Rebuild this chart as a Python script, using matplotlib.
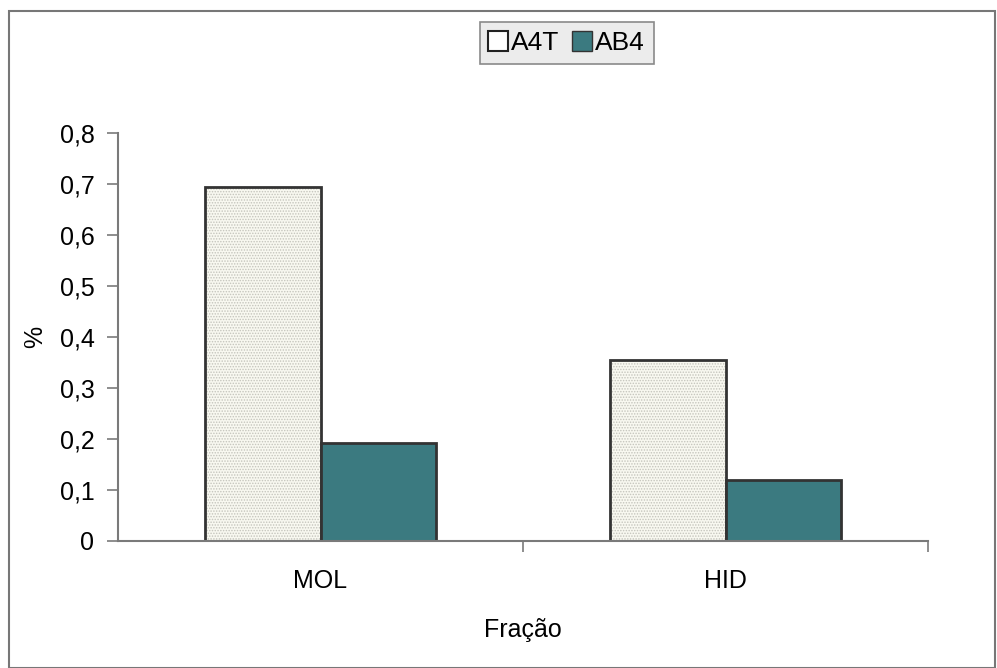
import matplotlib.pyplot as plt
from matplotlib.patches import Rectangle
from matplotlib.lines import Line2D
import numpy as np

categories = ["MOL", "HID"]
a4t = [0.695, 0.355]
ab4 = [0.192, 0.12]
yticks = [0, 0.1, 0.2, 0.3, 0.4, 0.5, 0.6, 0.7, 0.8]
ytick_labels = ["0", "0,1", "0,2", "0,3", "0,4", "0,5", "0,6", "0,7", "0,8"]

plt.rcParams["font.family"] = ["Liberation Sans", "DejaVu Sans"]
plt.rcParams["hatch.linewidth"] = 0.7

teal = "#3b7a80"
cream = "#f8f8f0"
axis_gray = "#7a7a7a"
fs = 18

fig = plt.figure(figsize=(9.97, 6.68), dpi=100)
ax = fig.add_axes([118 / 997, 1 - 541 / 668, 810 / 997, 408 / 668])

x = np.arange(len(categories))
w = 0.284

# stippled fill first, then the dark outline on top
ax.bar(x - w / 2, a4t, w, color=cream, edgecolor="#c4c4bc", hatch="......", linewidth=0)
ax.bar(x - w / 2, a4t, w, color="none", edgecolor="#333333", linewidth=2)
ax.bar(x + w / 2, ab4, w, color=teal, edgecolor="#333333", linewidth=2)

ax.set_xlim(-0.5, 1.5)
ax.set_ylim(0, 0.8)
ax.set_yticks(yticks)
ax.set_yticklabels(ytick_labels, fontsize=fs)
ax.set_xticks([0.5, 1.5], minor=False)
ax.set_xticklabels([])
ax.set_xticks(x, minor=True)
ax.set_xticklabels(categories, minor=True, fontsize=fs)
ax.tick_params(axis="x", which="minor", length=0, pad=20)
ax.tick_params(axis="x", which="major", length=8, width=1.2, color=axis_gray, direction="out")
ax.tick_params(axis="y", length=8, width=1.2, color=axis_gray, direction="out", pad=9)

for side in ["top", "right"]:
    ax.spines[side].set_visible(False)
for side in ["left", "bottom"]:
    ax.spines[side].set_color(axis_gray)
    ax.spines[side].set_linewidth(1.5)

ax.set_ylabel("%", fontsize=fs, labelpad=9)
ax.set_xlabel("Fração", fontsize=fs, labelpad=18)

handles = [
    Line2D([], [], marker="s", linestyle="none", markersize=14,
           markerfacecolor="white", markeredgecolor="#222222", markeredgewidth=1.5),
    Line2D([], [], marker="s", linestyle="none", markersize=14,
           markerfacecolor=teal, markeredgecolor="#333333", markeredgewidth=1),
]
leg = fig.legend(handles, ["A4T", "AB4"], loc="upper center",
                 bbox_to_anchor=(567 / 997, 1 - 22 / 668), ncol=2,
                 fontsize=19, frameon=True, fancybox=False,
                 handlelength=0.7, handletextpad=0.15, columnspacing=0.5,
                 borderpad=0.35, borderaxespad=0)
frame = leg.get_frame()
frame.set_facecolor("#ececec")
frame.set_edgecolor("#8a8a8a")
frame.set_linewidth(1.2)
frame.set_alpha(1)

# outer border of the chart area
fig.patches.append(Rectangle((9 / 997, 0.5 / 668), 986 / 997, 656.5 / 668,
                             transform=fig.transFigure, fill=False,
                             edgecolor="#777777", linewidth=1.5))

fig.savefig("out.png", dpi=100)
